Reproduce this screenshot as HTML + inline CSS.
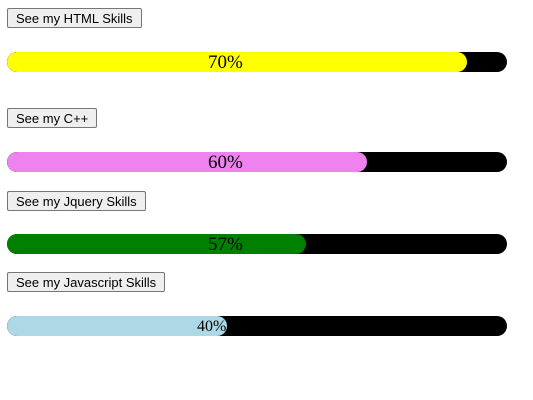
<!DOCTYPE html>
<html><head><meta charset="utf-8"><style>
body{margin:0;width:533px;height:400px;background:#fff;position:relative;font-family:"Liberation Sans",sans-serif;overflow:hidden}
button{position:absolute;left:7px;height:20px;padding:0 8px;font:13px "Liberation Sans",sans-serif;background:#efefef;border:1px solid #767676;border-radius:2px;color:#000;box-sizing:border-box}
.bar{position:absolute;left:7px;width:500px;height:20px;background:#000;border-radius:10px;overflow:hidden}
.fill{position:absolute;left:0;top:0;height:20px;border-radius:10px}
.lbl{position:absolute;top:0;height:20px;line-height:22px;font-family:"Liberation Serif",serif;color:#000;white-space:nowrap}
</style></head><body>
<div id="root"></div>
<script>
const skills=["HTML Skills","C++","Jquery Skills","Javascript Skills"];
const values=[70,60,57,40];
const fillPct=[92,72,59.8,44];
const colors=["yellow","violet","green","lightblue"];
const btnTops=[8,108,191,272], barTops=[52,152,234,316];
skills.forEach((s,i)=>{
  const b=document.createElement('button');
  
  
  b.style.top=btnTops[i]+'px';
  b.textContent='See my '+s;
  document.body.appendChild(b);
  const bar=document.createElement('div');
  bar.className='bar';
  
  
  bar.style.top=barTops[i]+'px';
  const f=document.createElement('div');
  f.className='fill';
  
  
  f.style.width=(fillPct[i]/100*500)+'px';
  f.style.background=colors[i];
  bar.appendChild(f);
  const l=document.createElement('div');
  l.className='lbl';
  
  
  l.textContent=values[i]+'%';
  if(i<3){l.style.left='201px';l.style.fontSize='19px';}
  else{l.style.left='190px';l.style.fontSize='16px';}
  bar.appendChild(l);
  document.body.appendChild(bar);
});
</script>
</body></html>
